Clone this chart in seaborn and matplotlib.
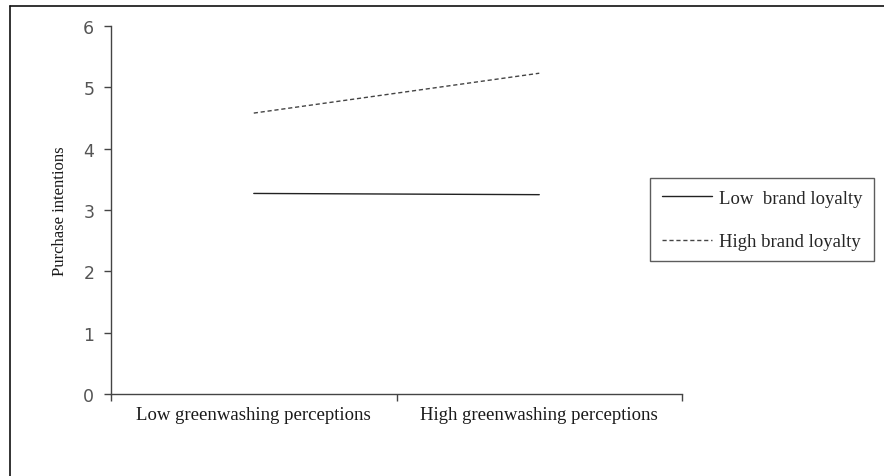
import pandas as pd
import seaborn as sns
import matplotlib.pyplot as plt
from matplotlib.lines import Line2D

# Data
perceptions = ['Low greenwashing perceptions', 'High greenwashing perceptions']
low_loyalty = [3.27, 3.25]
high_loyalty = [4.58, 5.23]
groups = ['Low  brand loyalty', 'High brand loyalty']

df = pd.DataFrame({
    'perception': perceptions * 2,
    'intention': low_loyalty + high_loyalty,
    'loyalty': [groups[0]] * 2 + [groups[1]] * 2,
})
df['x'] = df['perception'].map({p: i for i, p in enumerate(perceptions)})

sns.set_style('white')
serif = ['Liberation Serif', 'DejaVu Serif']

fig = plt.figure(figsize=(8.84, 4.77), dpi=100)
ax = fig.add_axes([0.1256, 0.1719, 0.6459, 0.7715])

sns.lineplot(data=df, x='x', y='intention', hue='loyalty', style='loyalty',
             palette={groups[0]: '#222222', groups[1]: '#444444'},
             dashes={groups[0]: '', groups[1]: (3, 2)},
             linewidth=1.0, legend=False, ax=ax)

ax.set_xlim(-0.5, 1.5)
ax.set_ylim(0, 6)
ax.set_yticks(range(0, 7))
ax.set_xticks([-0.5, 0.5, 1.5])
ax.set_xticklabels([])
ax.set_xticks([0, 1], minor=True)
ax.set_xticklabels(perceptions, minor=True, fontsize=13.5, family=serif, color='#1a1a1a')
ax.tick_params(axis='x', which='minor', length=0, pad=8.5)
ax.tick_params(axis='x', which='major', length=5, width=1, color='#444444', direction='out', bottom=True)
ax.tick_params(axis='y', length=5, width=1, color='#444444', direction='out', left=True,
               labelsize=12.5, labelcolor='#555555', pad=7)

for s in ['top', 'right']:
    ax.spines[s].set_visible(False)
for s in ['left', 'bottom']:
    ax.spines[s].set_color('#444444')
    ax.spines[s].set_linewidth(1.0)

ax.set_xlabel('')
ax.set_ylabel('Purchase intentions', fontsize=12, family=serif, color='#1a1a1a', labelpad=11)

handles = [Line2D([], [], color='#222222', lw=1.0),
           Line2D([], [], color='#444444', lw=1.0, dashes=(3, 2))]
leg = fig.legend(handles, groups, loc='center', bbox_to_anchor=(0.862, 0.537),
                 bbox_transform=fig.transFigure, frameon=True, fancybox=False,
                 handlelength=2.7, handletextpad=0.35, labelspacing=1.4,
                 borderpad=0.6, borderaxespad=0, prop={'family': serif, 'size': 13.5})
leg.get_frame().set_edgecolor('#333333')
leg.get_frame().set_linewidth(1.0)

# outer frame (top and left edges)
fig.add_artist(Line2D([0.0113, 1.0], [0.9853, 0.9853], color='#111111', lw=1.2, transform=fig.transFigure))
fig.add_artist(Line2D([0.0113, 0.0113], [0.0, 0.9853], color='#111111', lw=1.2, transform=fig.transFigure))

fig.savefig('out.png', dpi=100)
